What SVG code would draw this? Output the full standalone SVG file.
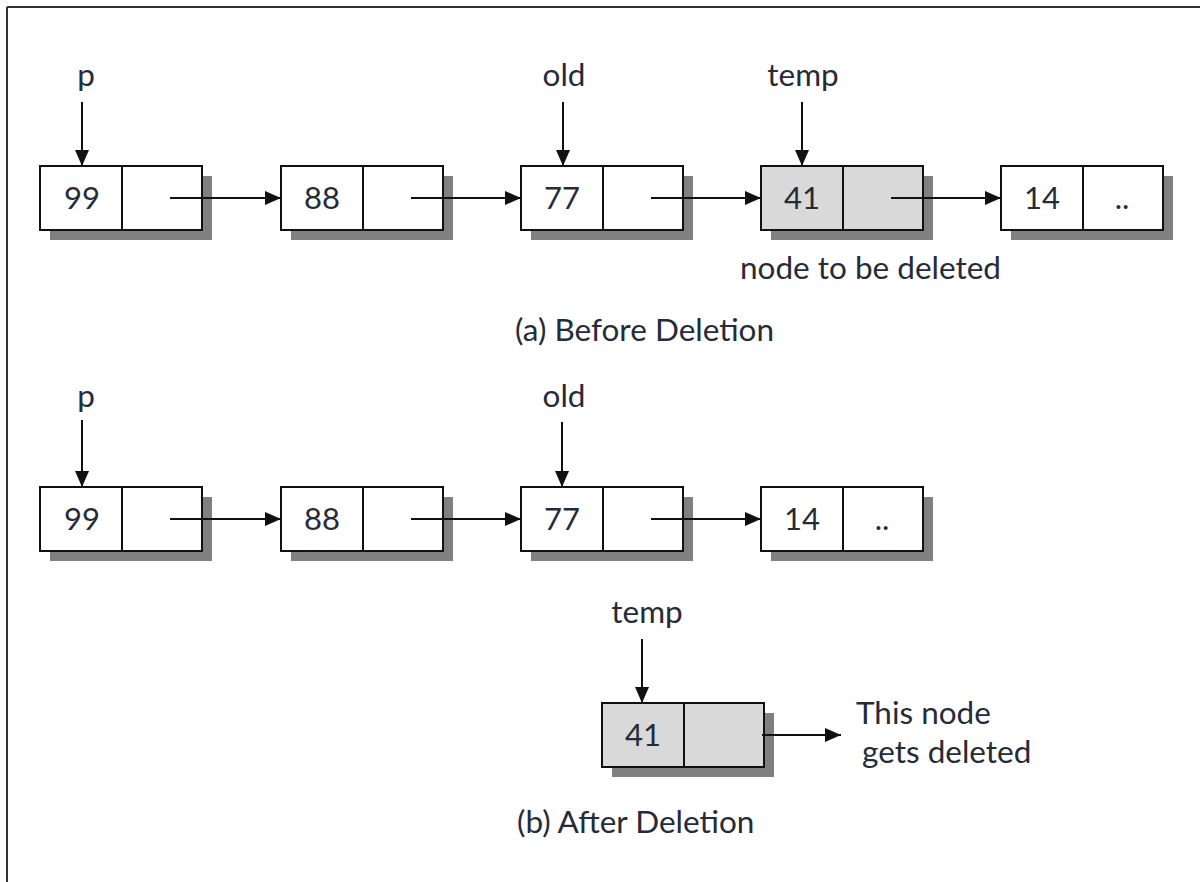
<svg xmlns="http://www.w3.org/2000/svg" width="1200" height="882" viewBox="0 0 1200 882">
  <style>
    .cell { stroke: #111111; stroke-width: 2; }
    .shadow { fill: #808080; }
    .div { stroke: #111111; stroke-width: 2; }
    .val { font-family: Lato, "Open Sans", sans-serif; font-size: 31px; fill: #262b38; text-anchor: middle; }
    .lbl { font-family: Lato, "Open Sans", sans-serif; font-size: 31.5px; fill: #262b38; }
    .mid { text-anchor: middle; }
    .link { stroke: #111111; stroke-width: 2; fill: none; marker-end: url(#head); }
  </style>
  <defs>
    <marker id="head" viewBox="0 0 16 14" refX="16" refY="7" markerWidth="16" markerHeight="14" markerUnits="userSpaceOnUse" orient="auto">
      <path d="M0,0 L16,7 L0,14 Z" fill="#111111"/>
    </marker>
    <!-- one list node: shadow, outer box, divider between data and link fields; box fill comes from the <use> -->
    <g id="box">
      <rect class="shadow" x="10" y="10" width="162" height="64"/>
      <rect class="cell" x="0" y="0" width="162" height="64"/>
      <line class="div" x1="82" y1="0" x2="82" y2="64"/>
    </g>
  </defs>

  <rect width="1200" height="882" fill="#ffffff"/>
  <!-- frame edges -->
  <line x1="7" y1="7" x2="1200" y2="7" stroke="#333333" stroke-width="2"/>
  <line x1="7" y1="7" x2="7" y2="882" stroke="#333333" stroke-width="2"/>

  <!-- (a) before deletion -->
  <g id="a-99"><use href="#box" x="40" y="166" fill="#ffffff"/><text class="val" x="82" y="209">99</text></g>
  <g id="a-88"><use href="#box" x="281" y="166" fill="#ffffff"/><text class="val" x="322" y="209">88</text></g>
  <g id="a-77"><use href="#box" x="521" y="166" fill="#ffffff"/><text class="val" x="562" y="209">77</text></g>
  <g id="a-41"><use href="#box" x="761" y="166" fill="#d9d9d9"/><text class="val" x="802" y="209">41</text></g>
  <g id="a-14"><use href="#box" x="1001" y="166" fill="#ffffff"/><text class="val" x="1042" y="209">14</text><text class="val" x="1122" y="209">..</text></g>

  <g id="a-labels">
    <text class="lbl mid" x="86" y="86">p</text>
    <text class="lbl mid" x="564" y="86">old</text>
    <text class="lbl mid" x="803" y="86">temp</text>
    <text class="lbl" x="740" y="279">node to be deleted</text>
    <text class="lbl" x="515" y="341">(a) Before Deletion</text>
  </g>

  <!-- (b) after deletion -->
  <g id="b-99"><use href="#box" x="40" y="487" fill="#ffffff"/><text class="val" x="82" y="530">99</text></g>
  <g id="b-88"><use href="#box" x="281" y="487" fill="#ffffff"/><text class="val" x="322" y="530">88</text></g>
  <g id="b-77"><use href="#box" x="521" y="487" fill="#ffffff"/><text class="val" x="562" y="530">77</text></g>
  <g id="b-14"><use href="#box" x="761" y="487" fill="#ffffff"/><text class="val" x="802" y="530">14</text><text class="val" x="882" y="530">..</text></g>
  <g id="b-41"><use href="#box" x="602" y="703" fill="#d9d9d9"/><text class="val" x="643" y="746">41</text></g>

  <g id="b-labels">
    <text class="lbl mid" x="86" y="407">p</text>
    <text class="lbl mid" x="564" y="407">old</text>
    <text class="lbl mid" x="647" y="623">temp</text>
    <text class="lbl" x="856" y="724">This node</text>
    <text class="lbl" x="862" y="763">gets deleted</text>
    <text class="lbl" x="517" y="833">(b) After Deletion</text>
  </g>

  <g id="connectors">
    <!-- pointers into nodes -->
    <line class="link" x1="82" y1="102" x2="82" y2="166"/>
    <line class="link" x1="563" y1="102" x2="563" y2="166"/>
    <line class="link" x1="802" y1="102" x2="802" y2="166"/>
    <line class="link" x1="82" y1="420" x2="82" y2="487"/>
    <line class="link" x1="562" y1="422" x2="562" y2="487"/>
    <line class="link" x1="642" y1="639" x2="642" y2="703"/>
    <!-- next links, before -->
    <line class="link" x1="170" y1="198" x2="281" y2="198"/>
    <line class="link" x1="411" y1="198" x2="521" y2="198"/>
    <line class="link" x1="651" y1="198" x2="761" y2="198"/>
    <line class="link" x1="891" y1="198" x2="1001" y2="198"/>
    <!-- next links, after -->
    <line class="link" x1="170" y1="519" x2="281" y2="519"/>
    <line class="link" x1="411" y1="519" x2="521" y2="519"/>
    <line class="link" x1="651" y1="519" x2="761" y2="519"/>
    <!-- freed node -->
    <line class="link" x1="762" y1="735" x2="841" y2="735"/>
  </g>
</svg>
